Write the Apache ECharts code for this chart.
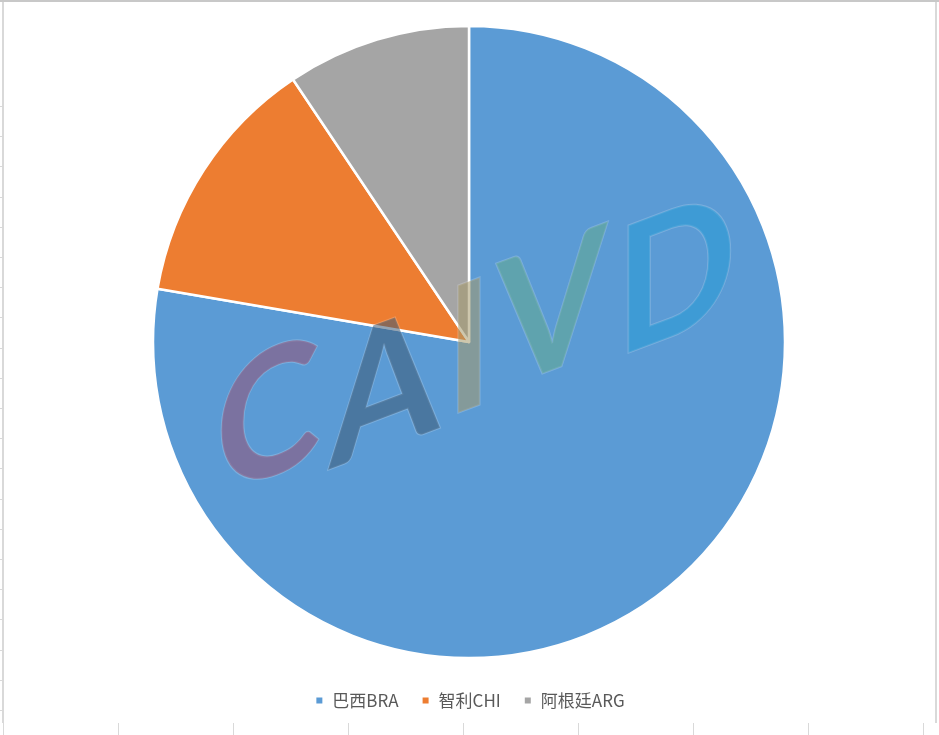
<!DOCTYPE html>
<html><head><meta charset="utf-8">
<script src="https://cdn.jsdelivr.net/npm/echarts@6/dist/echarts.min.js"></script>
<style>html,body{margin:0;padding:0;background:#fff;}#c{width:939px;height:735px;}</style>
</head><body><div id="c"></div>
<script>
const categories = ['巴西BRA', '智利CHI', '阿根廷ARG'];
const values = [77.7, 12.9, 9.4];
const colors = ['#5b9bd5', '#ed7d31', '#a5a5a5'];
const wmLetters = ['C', 'A', 'I', 'V', 'D'];
const wmColors = ['#955074', '#3c5974', '#a59969', '#62a98e', '#269bd6'];

const chart = echarts.init(document.getElementById('c'));
const wmPos = [[268, 420], [384, 392], [469, 352], [552, 313], [676, 278]];
const deco = [
  {type:'rect', shape:{x:0,y:0,width:939,height:2}, style:{fill:'#c8c8c8'}, z:0},
  {type:'rect', shape:{x:2,y:2,width:2,height:721}, style:{fill:'#d9d9d9'}, z:0},
  {type:'rect', shape:{x:935,y:2,width:2,height:721}, style:{fill:'#d9d9d9'}, z:0}
];
for (let y = 106; y < 720; y += 30.2) deco.push({type:'rect', shape:{x:0,y:Math.round(y),width:2,height:1}, style:{fill:'#d9d9d9'}, z:0});
[3,118,233,348,463,578,693,808,923].forEach(x => deco.push({type:'rect', shape:{x:x,y:723,width:1,height:12}, style:{fill:'#d9d9d9'}, z:0}));
wmLetters.forEach((ch, i) => {
  deco.push({type:'text', x: wmPos[i][0], y: wmPos[i][1], skewY: 0.36, scaleX: 0.9, z: 100,
    style:{text: ch, font: 'bold 176px Lato', fill: wmColors[i], opacity: 0.55,
      stroke:'rgba(255,255,255,0.35)', lineWidth:2, align:'center', verticalAlign:'middle'}});
});

chart.setOption({
  animation:false,
  color: colors,
  legend: {
    bottom: 21, left: 'center', itemWidth: 8, itemHeight: 8, itemGap: 22, icon: 'rect',
    textStyle: {fontSize: 17, color: '#595959', fontFamily: 'Noto Sans CJK SC', padding: [0, 0, 0, 4]}
  },
  graphic: deco,
  series: [{
    type: 'pie', center: [469, 342], radius: 316, startAngle: 90, clockwise: true,
    label: {show:false}, labelLine:{show:false},
    itemStyle: {borderColor: '#fff', borderWidth: 2.5},
    emphasis:{disabled:true},
    data: categories.map((n, i) => ({name: n, value: values[i]}))
  }]
});
</script></body></html>
